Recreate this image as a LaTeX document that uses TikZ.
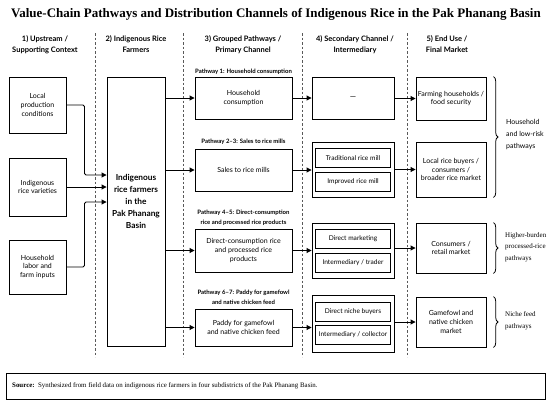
\documentclass[tikz,border=0pt]{standalone}
\usepackage{fontspec}
\setmainfont{Liberation Serif}
\setsansfont{Lato}
\usetikzlibrary{arrows.meta,decorations.pathreplacing,calc}
\begin{document}
\begin{tikzpicture}[x=1pt,y=-1pt,
  box/.style={draw=black, line width=0.9pt, align=center, inner sep=1pt,
    font=\sffamily\fontsize{7}{8.8}\selectfont},
  inbox/.style={box, minimum width=75pt, minimum height=19pt, font=\sffamily\fontsize{6.6}{8}\selectfont},
  hdr/.style={align=center, inner sep=0pt, font=\sffamily\bfseries\fontsize{7.5}{11}\selectfont},
  plabel/.style={align=center, inner sep=0pt, font=\sffamily\bfseries\fontsize{6}{10}\selectfont},
  btext/.style={align=left, anchor=west, inner sep=0pt, font=\sffamily\fontsize{7}{12}\selectfont},
  bstext/.style={align=left, anchor=west, inner sep=0pt, font=\rmfamily\fontsize{7}{11.5}\selectfont},
  sep/.style={draw=black!65, line width=0.7pt, dash pattern=on 2.5pt off 2pt},
  arr/.style={draw=black, line width=0.9pt, rounded corners=1.5pt, -{Triangle[length=5pt,width=5pt]}},
  brc/.style={draw=black, line width=0.8pt, decorate, decoration={brace, amplitude=4.5pt}},
]
\useasboundingbox (0,0) rectangle (550,405);
\fill[white] (0,0) rectangle (550,405);

% title
\node[font=\rmfamily\bfseries\fontsize{13}{15}\selectfont, inner sep=0pt] (title) at (276,14)
  {Value-Chain Pathways and Distribution Channels of Indigenous Rice in the Pak Phanang Basin};

% headers
\node[hdr] (h1) at (45,44.5) {1) Upstream /\\Supporting Context};
\node[hdr] (h2) at (136,44.5) {2) Indigenous Rice\\Farmers};
\node[hdr] (h3) at (243,44.5) {3) Grouped Pathways /\\Primary Channel};
\node[hdr] (h4) at (355,44.5) {4) Secondary Channel /\\Intermediary};
\node[hdr] (h5) at (447,44.5) {5) End Use /\\Final Market};

% separators
\coordinate (s1t) at (95,33);  \coordinate (s1b) at (95,357);
\coordinate (s2t) at (183,33); \coordinate (s2b) at (183,357);
\coordinate (s3t) at (302,33); \coordinate (s3b) at (302,357);
\coordinate (s4t) at (407,33); \coordinate (s4b) at (407,357);
\draw[sep] (s1t) -- (s1b);
\draw[sep] (s2t) -- (s2b);
\draw[sep] (s3t) -- (s3b);
\draw[sep] (s4t) -- (s4b);

% column 1
\node[box, minimum width=57pt, minimum height=56pt] (c1a) at (37.5,105) {Local\\production\\conditions};
\node[box, minimum width=57pt, minimum height=58pt] (c1b) at (37.5,187) {Indigenous\\rice varieties};
\node[box, minimum width=57pt, minimum height=54pt] (c1c) at (37.5,267) {Household\\labor and\\farm inputs};

% column 2
\node[box, minimum width=58pt, minimum height=269pt] (farmer) at (136,211.5) {};
\node[align=center, inner sep=0pt, font=\sffamily\bfseries\fontsize{8.3}{12}\selectfont] (farmertxt) at (136,201)
  {Indigenous\\rice farmers\\in the\\Pak Phanang\\Basin};

% column 3
\node[plabel] (p1) at (243.5,72) {Pathway 1: Household consumption};
\node[box, minimum width=97pt, minimum height=42pt] (c3a) at (243.5,98) {Household\\consumption};
\node[plabel] (p2) at (243.5,142) {Pathway 2--3: Sales to rice mills};
\node[box, minimum width=97pt, minimum height=42pt] (c3b) at (243.5,170) {Sales to rice mills};
\node[plabel] (p3) at (243.5,218) {Pathway 4--5: Direct-consumption\\rice and processed rice products};
\node[box, minimum width=97pt, minimum height=43pt] (c3c) at (243.5,250.5) {Direct-consumption rice\\and processed rice\\products};
\node[plabel] (p4) at (243.5,297.5) {Pathway 6--7: Paddy for gamefowl\\and native chicken feed};
\node[box, minimum width=97pt, minimum height=37pt] (c3d) at (243.5,327.5) {Paddy for gamefowl\\and native chicken feed};

% column 4
\node[box, minimum width=82pt, minimum height=42pt] (c4a) at (353,98) {\fontsize{8}{9}\selectfont —};
\node[box, minimum width=82pt, minimum height=55pt] (c4b) at (353,169.5) {};
\node[inbox] (c4b1) at (353,158) {Traditional rice mill};
\node[inbox] (c4b2) at (353,181.5) {Improved rice mill};
\node[box, minimum width=82pt, minimum height=55pt] (c4c) at (353,250.5) {};
\node[inbox] (c4c1) at (353,239) {Direct marketing};
\node[inbox] (c4c2) at (353,262.5) {Intermediary / trader};
\node[box, minimum width=82pt, minimum height=57pt] (c4d) at (353,323.5) {};
\node[inbox] (c4d1) at (353,311.5) {Direct niche buyers};
\node[inbox] (c4d2) at (353,335) {Intermediary / collector};

% column 5
\node[box, minimum width=70pt, minimum height=43pt] (c5a) at (451,98.5) {Farming households /\\food security};
\node[box, minimum width=70pt, minimum height=55pt] (c5b) at (451,169.5) {Local rice buyers /\\consumers /\\broader rice market};
\node[box, minimum width=70pt, minimum height=50pt] (c5c) at (451,248) {Consumers /\\retail market};
\node[box, minimum width=70pt, minimum height=50pt] (c5d) at (451,322) {Gamefowl and\\native chicken\\market};

% braces
\draw[brc] ($(c5a.north east)+(7,0)$) -- ($(c5b.south east)+(7,0)$);
\draw[brc] ($(c5c.north east)+(7,0)$) -- ($(c5c.south east)+(7,0)$);
\draw[brc] ($(c5d.north east)+(7,0)$) -- ($(c5d.south east)+(7,0)$);
\node[btext] (g1) at (506,135) {Household\\and low-risk\\pathways};
\node[bstext] (g2) at (505,247) {Higher-burden\\processed-rice\\pathways};
\node[bstext] (g3) at (505,321) {Niche feed\\pathways};

% connectors column 1 -> farmers
\draw[arr] (c1a.east) -| ($(c1b.east)+(18,-12)$) -- ($(farmer.west |- c1b.east)+(0,-12)$);
\draw[arr] (c1b.east) -- (farmer.west |- c1b.east);
\draw[arr] (c1c.east) -| ($(c1b.east)+(18,15)$) -- ($(farmer.west |- c1b.east)+(0,15)$);

% farmers -> column 3
\draw[arr] (farmer.east |- c3a) -- (c3a);
\draw[arr] (farmer.east |- c3b) -- (c3b);
\draw[arr] (farmer.east |- c3c) -- (c3c);
\draw[arr] (farmer.east |- c3d) -- (c3d);

% column 3 -> column 4
\draw[arr] (c3a) -- (c4a);
\draw[arr] (c3b.east) -- (c4b.west |- c3b.east);
\draw[arr] (c3c) -- (c4c);
\draw[arr] (c3d.east) -- (c4d.west |- c3d.east);

% column 4 -> column 5
\draw[arr] (c4a.east |- c5a) -- (c5a);
\draw[arr] (c4b) -- (c5b);
\draw[arr] (c4c.east |- c5c) -- (c5c);
\draw[arr] (c4d.east |- c5d) -- (c5d);

% source
\node[draw=black, line width=1pt, minimum width=539pt, minimum height=26pt, inner sep=0pt] (src) at (275.5,386) {};
\node[anchor=west, inner sep=0pt, font=\rmfamily\fontsize{6.9}{8}\selectfont] (srctxt) at (12,386)
  {\textbf{Source:}\enspace Synthesized from field data on indigenous rice farmers in four subdistricts of the Pak Phanang Basin.};
\end{tikzpicture}
\end{document}
